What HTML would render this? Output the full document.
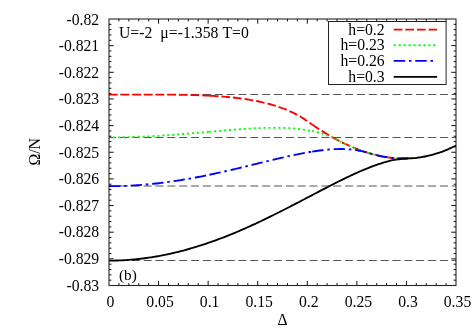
<!DOCTYPE html>
<html><head><meta charset="utf-8"><title>plot</title>
<style>html,body{margin:0;padding:0;background:#fff;}svg{display:block;will-change:transform;}.t text{font-family:"Liberation Serif",serif;}</style></head>
<body>
<svg width="473" height="331" viewBox="0 0 473 331">
<rect width="473" height="331" fill="#fff"/>
<path d="M109.00,94.50 H456.00" stroke="#555" stroke-width="1" stroke-dasharray="8 3.85" stroke-dashoffset="0.9" fill="none"/>
<path d="M109.00,137.50 H456.00" stroke="#555" stroke-width="1" stroke-dasharray="8 3.85" stroke-dashoffset="0.9" fill="none"/>
<path d="M109.00,186.00 H456.00" stroke="#555" stroke-width="1" stroke-dasharray="8 3.85" stroke-dashoffset="0.9" fill="none"/>
<path d="M109.00,260.50 H456.00" stroke="#555" stroke-width="1" stroke-dasharray="8 3.85" stroke-dashoffset="0.9" fill="none"/>
<path d="M109.00,94.65C109.41,94.65 110.65,94.65 111.48,94.64C112.30,94.64 113.13,94.64 113.96,94.64C114.78,94.64 115.61,94.63 116.44,94.63C117.26,94.63 118.09,94.63 118.91,94.63C119.74,94.62 120.57,94.62 121.39,94.62C122.22,94.62 123.05,94.62 123.87,94.61C124.70,94.61 125.52,94.61 126.35,94.61C127.18,94.61 128.00,94.60 128.83,94.60C129.65,94.60 130.48,94.60 131.31,94.60C132.13,94.60 132.96,94.59 133.79,94.59C134.61,94.59 135.44,94.59 136.26,94.59C137.09,94.59 137.92,94.59 138.74,94.58C139.57,94.58 140.40,94.58 141.22,94.58C142.05,94.58 142.87,94.58 143.70,94.58C144.53,94.58 145.35,94.58 146.18,94.58C147.00,94.58 147.83,94.58 148.66,94.58C149.48,94.58 150.31,94.58 151.14,94.58C151.96,94.58 152.79,94.58 153.61,94.58C154.44,94.59 155.27,94.59 156.09,94.59C156.92,94.59 157.75,94.59 158.57,94.60C159.40,94.60 160.22,94.60 161.05,94.61C161.88,94.61 162.70,94.61 163.53,94.62C164.35,94.62 165.18,94.63 166.01,94.63C166.83,94.64 167.66,94.64 168.49,94.65C169.31,94.66 170.14,94.66 170.96,94.67C171.79,94.68 172.62,94.69 173.44,94.70C174.27,94.71 175.10,94.71 175.92,94.72C176.75,94.74 177.57,94.75 178.40,94.76C179.23,94.77 180.05,94.78 180.88,94.80C181.70,94.81 182.53,94.82 183.36,94.84C184.18,94.85 185.01,94.87 185.84,94.89C186.66,94.90 187.49,94.92 188.31,94.94C189.14,94.96 189.97,94.98 190.79,95.00C191.62,95.02 192.45,95.04 193.27,95.07C194.10,95.09 194.92,95.12 195.75,95.14C196.58,95.17 197.40,95.20 198.23,95.22C199.05,95.25 199.88,95.28 200.71,95.32C201.53,95.35 202.36,95.38 203.19,95.41C204.01,95.45 204.84,95.49 205.66,95.52C206.49,95.56 207.45,95.61 208.14,95.64C208.83,95.68 209.52,95.71 209.80,95.73" stroke="#f00" stroke-width="1.85" stroke-dasharray="8.7 2.95" fill="none"/>
<path d="M209.80,95.73C209.94,95.73 210.07,95.74 210.62,95.77C211.17,95.80 212.27,95.86 213.10,95.91C213.93,95.96 214.75,96.01 215.58,96.06C216.40,96.12 217.23,96.17 218.06,96.23C218.88,96.28 219.71,96.34 220.54,96.40C221.36,96.47 222.19,96.53 223.01,96.60C223.84,96.66 224.67,96.73 225.49,96.80C226.32,96.87 227.15,96.95 227.97,97.02C228.80,97.10 229.62,97.18 230.45,97.26C231.28,97.35 232.10,97.43 232.93,97.52C233.75,97.61 234.58,97.70 235.41,97.79C236.23,97.89 237.06,97.99 237.89,98.09C238.71,98.19 239.54,98.29 240.36,98.40C241.19,98.51 242.02,98.62 242.84,98.74C243.67,98.85 244.50,98.97 245.32,99.10C246.15,99.22 246.97,99.35 247.80,99.48C248.63,99.61 249.45,99.75 250.28,99.89C251.10,100.03 251.93,100.17 252.76,100.32C253.58,100.47 254.41,100.63 255.24,100.78C256.06,100.94 256.89,101.11 257.71,101.28C258.54,101.45 259.37,101.62 260.19,101.80C261.02,101.98 261.85,102.17 262.67,102.36C263.50,102.55 264.32,102.74 265.15,102.95C265.98,103.15 266.80,103.36 267.63,103.58C268.45,103.79 269.28,104.01 270.11,104.24C270.93,104.47 271.76,104.71 272.59,104.95C273.41,105.19 274.24,105.44 275.06,105.70C275.89,105.96 276.72,106.23 277.54,106.50C278.37,106.77 279.20,107.06 280.02,107.35C280.85,107.64 281.67,107.94 282.50,108.25C283.33,108.56 284.15,108.87 284.98,109.20C285.80,109.53 286.63,109.87 287.46,110.22C288.28,110.57 289.11,110.92 289.94,111.30C290.76,111.67 291.59,112.05 292.41,112.44C293.24,112.84 294.07,113.24 294.89,113.66C295.72,114.08 296.55,114.51 297.37,114.96C298.20,115.41 299.02,115.86 299.85,116.35C300.68,116.84 301.50,117.40 302.33,117.91C303.15,118.43 303.98,118.91 304.81,119.44C305.63,119.98 306.46,120.55 307.29,121.12C308.11,121.70 308.98,122.33 309.76,122.88C310.55,123.43 311.63,124.17 312.00,124.43" stroke="#f00" stroke-width="1.85" stroke-dasharray="8.7 2.95" fill="none"/>
<path d="M312.00,124.43C312.45,124.73 313.85,125.69 314.72,126.28C315.59,126.86 316.37,127.38 317.20,127.93C318.03,128.47 318.85,129.01 319.68,129.54C320.50,130.07 321.33,130.59 322.16,131.11C322.98,131.63 323.81,132.15 324.64,132.65C325.46,133.16 326.29,133.66 327.11,134.15C327.94,134.65 328.77,135.13 329.59,135.61C330.42,136.09 331.25,136.57 332.07,137.04C332.90,137.50 333.72,137.96 334.55,138.42C335.38,138.87 336.20,139.32 337.03,139.76C337.85,140.20 338.68,140.63 339.51,141.06C340.33,141.49 341.16,141.91 341.99,142.32C342.81,142.73 343.64,143.14 344.46,143.53C345.29,143.93 346.12,144.32 346.94,144.71C347.77,145.09 348.60,145.47 349.42,145.84C350.25,146.21 351.07,146.57 351.90,146.92C352.73,147.28 353.55,147.62 354.38,147.96C355.20,148.30 356.03,148.63 356.86,148.96C357.68,149.28 358.51,149.60 359.34,149.91C360.16,150.22 360.99,150.52 361.81,150.81C362.64,151.10 363.47,151.39 364.29,151.67C365.12,151.94 365.95,152.21 366.77,152.48C367.60,152.74 368.42,152.99 369.25,153.24C370.08,153.48 370.90,153.72 371.73,153.95C372.55,154.18 373.38,154.40 374.21,154.61C375.03,154.82 375.86,155.03 376.69,155.22C377.51,155.42 378.34,155.60 379.16,155.78C379.99,155.96 380.82,156.13 381.64,156.29C382.47,156.46 383.30,156.61 384.12,156.75C384.95,156.90 385.77,157.04 386.60,157.16C387.43,157.29 388.25,157.41 389.08,157.52C389.90,157.63 390.73,157.73 391.56,157.82C392.38,157.91 393.21,158.00 394.04,158.07C394.86,158.14 395.69,158.21 396.51,158.27C397.34,158.32 398.17,158.37 398.99,158.41C399.82,158.44 400.65,158.47 401.47,158.49C402.30,158.51 403.12,158.52 403.95,158.52C404.78,158.52 405.69,158.51 406.43,158.50C407.17,158.48 408.08,158.44 408.41,158.43" stroke="#f00" stroke-width="1.85" stroke-dasharray="8.7 2.95" fill="none"/>
<path d="M109.00,137.41C109.41,137.41 110.65,137.41 111.48,137.40C112.30,137.40 113.13,137.39 113.96,137.38C114.78,137.38 115.61,137.37 116.44,137.36C117.26,137.35 118.09,137.34 118.91,137.33C119.74,137.31 120.57,137.30 121.39,137.28C122.22,137.27 123.05,137.25 123.87,137.24C124.70,137.22 125.52,137.20 126.35,137.18C127.18,137.16 128.00,137.14 128.83,137.12C129.65,137.09 130.48,137.07 131.31,137.05C132.13,137.02 132.96,136.99 133.79,136.97C134.61,136.94 135.44,136.91 136.26,136.88C137.09,136.85 137.92,136.82 138.74,136.79C139.57,136.76 140.40,136.72 141.22,136.69C142.05,136.65 142.87,136.62 143.70,136.58C144.53,136.54 145.35,136.51 146.18,136.47C147.00,136.43 147.83,136.39 148.66,136.35C149.48,136.30 150.31,136.26 151.14,136.22C151.96,136.17 152.79,136.13 153.61,136.08C154.44,136.04 155.27,135.99 156.09,135.94C156.92,135.89 157.75,135.85 158.57,135.80C159.40,135.75 160.22,135.69 161.05,135.64C161.88,135.59 162.70,135.54 163.53,135.48C164.35,135.43 165.18,135.38 166.01,135.32C166.83,135.26 167.66,135.21 168.49,135.15C169.31,135.09 170.14,135.03 170.96,134.98C171.79,134.92 172.62,134.86 173.44,134.79C174.27,134.73 175.10,134.67 175.92,134.61C176.75,134.55 177.57,134.48 178.40,134.42C179.23,134.36 180.05,134.29 180.88,134.23C181.70,134.16 182.53,134.10 183.36,134.03C184.18,133.96 185.01,133.90 185.84,133.83C186.66,133.76 187.49,133.69 188.31,133.62C189.14,133.55 189.97,133.48 190.79,133.41C191.62,133.35 192.45,133.27 193.27,133.20C194.10,133.13 194.92,133.06 195.75,132.99C196.58,132.92 197.40,132.85 198.23,132.78C199.05,132.70 199.88,132.63 200.71,132.56C201.53,132.49 202.36,132.41 203.19,132.34C204.01,132.27 204.84,132.19 205.66,132.12C206.49,132.05 207.55,131.95 208.14,131.90C208.73,131.85 209.02,131.82 209.20,131.81" stroke="#0f0" stroke-width="1.85" stroke-dasharray="2.05 2.9" stroke-dashoffset="1.1" fill="none"/>
<path d="M209.20,131.81C209.44,131.79 209.97,131.74 210.62,131.68C211.27,131.62 212.27,131.53 213.10,131.46C213.93,131.39 214.75,131.32 215.58,131.24C216.40,131.17 217.23,131.10 218.06,131.02C218.88,130.95 219.71,130.88 220.54,130.81C221.36,130.74 222.19,130.67 223.01,130.60C223.84,130.52 224.67,130.45 225.49,130.38C226.32,130.31 227.15,130.24 227.97,130.18C228.80,130.11 229.62,130.04 230.45,129.97C231.28,129.91 232.10,129.84 232.93,129.77C233.75,129.71 234.58,129.64 235.41,129.58C236.23,129.52 237.06,129.45 237.89,129.39C238.71,129.33 239.54,129.27 240.36,129.21C241.19,129.15 242.02,129.09 242.84,129.03C243.67,128.98 244.50,128.92 245.32,128.87C246.15,128.81 246.97,128.76 247.80,128.71C248.63,128.66 249.45,128.61 250.28,128.56C251.10,128.51 251.93,128.47 252.76,128.42C253.58,128.38 254.41,128.33 255.24,128.29C256.06,128.25 256.89,128.21 257.71,128.18C258.54,128.14 259.37,128.11 260.19,128.07C261.02,128.04 261.85,128.01 262.67,127.99C263.50,127.96 264.32,127.93 265.15,127.91C265.98,127.89 266.80,127.87 267.63,127.85C268.45,127.84 269.28,127.82 270.11,127.81C270.93,127.80 271.76,127.79 272.59,127.79C273.41,127.78 274.24,127.78 275.06,127.78C275.89,127.79 276.72,127.79 277.54,127.80C278.37,127.81 279.20,127.82 280.02,127.84C280.85,127.86 281.67,127.88 282.50,127.90C283.33,127.93 284.15,127.96 284.98,127.99C285.80,128.02 286.63,128.06 287.46,128.10C288.28,128.15 289.11,128.19 289.94,128.25C290.76,128.30 291.59,128.36 292.41,128.42C293.24,128.48 294.07,128.55 294.89,128.62C295.72,128.70 296.55,128.77 297.37,128.86C298.20,128.95 299.02,129.04 299.85,129.13C300.68,129.23 301.50,129.33 302.33,129.45C303.15,129.56 303.98,129.67 304.81,129.80C305.63,129.92 306.46,130.06 307.29,130.20C308.11,130.34 308.98,130.49 309.76,130.64C310.55,130.79 311.63,131.01 312.00,131.08" stroke="#0f0" stroke-width="1.85" stroke-dasharray="2.05 2.9" fill="none"/>
<path d="M312.00,131.08C312.45,131.18 313.85,131.48 314.72,131.68C315.59,131.87 316.37,132.07 317.20,132.28C318.03,132.49 318.85,132.71 319.68,132.94C320.50,133.17 321.33,133.41 322.16,133.67C322.98,133.92 323.81,134.19 324.64,134.47C325.46,134.75 326.29,135.04 327.11,135.34C327.94,135.65 328.77,135.95 329.59,136.30C330.42,136.65 331.25,137.09 332.07,137.46C332.90,137.83 333.72,138.13 334.55,138.52C335.38,138.90 336.20,139.34 337.03,139.76C337.85,140.18 338.68,140.63 339.51,141.06C340.33,141.49 341.16,141.91 341.99,142.32C342.81,142.73 343.64,143.14 344.46,143.53C345.29,143.93 346.12,144.32 346.94,144.71C347.77,145.09 348.60,145.47 349.42,145.84C350.25,146.21 351.07,146.57 351.90,146.92C352.73,147.28 353.55,147.62 354.38,147.96C355.20,148.30 356.03,148.63 356.86,148.96C357.68,149.28 358.51,149.60 359.34,149.91C360.16,150.22 360.99,150.52 361.81,150.81C362.64,151.10 363.47,151.39 364.29,151.67C365.12,151.94 365.95,152.21 366.77,152.48C367.60,152.74 368.42,152.99 369.25,153.24C370.08,153.48 370.90,153.72 371.73,153.95C372.55,154.18 373.38,154.40 374.21,154.61C375.03,154.82 375.86,155.03 376.69,155.22C377.51,155.42 378.34,155.60 379.16,155.78C379.99,155.96 380.82,156.13 381.64,156.29C382.47,156.46 383.30,156.61 384.12,156.75C384.95,156.90 385.77,157.04 386.60,157.16C387.43,157.29 388.25,157.41 389.08,157.52C389.90,157.63 390.73,157.73 391.56,157.82C392.38,157.91 393.21,158.00 394.04,158.07C394.86,158.14 395.69,158.21 396.51,158.27C397.34,158.32 398.17,158.37 398.99,158.41C399.82,158.44 400.65,158.47 401.47,158.49C402.30,158.51 403.12,158.52 403.95,158.52C404.78,158.52 405.69,158.51 406.43,158.50C407.17,158.48 408.08,158.44 408.41,158.43" stroke="#0f0" stroke-width="1.85" stroke-dasharray="2.05 2.9" fill="none"/>
<path d="M109.00,186.20C109.41,186.19 110.65,186.19 111.48,186.18C112.30,186.18 113.13,186.17 113.96,186.15C114.78,186.14 115.61,186.13 116.44,186.11C117.26,186.10 118.09,186.08 118.91,186.06C119.74,186.03 120.57,186.01 121.39,185.98C122.22,185.96 123.05,185.93 123.87,185.90C124.70,185.87 125.52,185.83 126.35,185.80C127.18,185.76 128.00,185.72 128.83,185.68C129.65,185.64 130.48,185.60 131.31,185.55C132.13,185.51 132.96,185.46 133.79,185.41C134.61,185.36 135.44,185.31 136.26,185.25C137.09,185.20 137.92,185.14 138.74,185.08C139.57,185.02 140.40,184.96 141.22,184.90C142.05,184.83 142.87,184.77 143.70,184.70C144.53,184.63 145.35,184.56 146.18,184.48C147.00,184.41 147.83,184.33 148.66,184.26C149.48,184.18 150.31,184.10 151.14,184.02C151.96,183.93 152.79,183.85 153.61,183.76C154.44,183.67 155.27,183.58 156.09,183.49C156.92,183.40 157.75,183.31 158.57,183.21C159.40,183.11 160.22,183.02 161.05,182.92C161.88,182.82 162.70,182.71 163.53,182.61C164.35,182.50 165.18,182.40 166.01,182.29C166.83,182.18 167.66,182.07 168.49,181.95C169.31,181.84 170.14,181.73 170.96,181.61C171.79,181.49 172.62,181.37 173.44,181.25C174.27,181.13 175.10,181.00 175.92,180.88C176.75,180.75 177.57,180.63 178.40,180.50C179.23,180.37 180.05,180.24 180.88,180.10C181.70,179.97 182.53,179.83 183.36,179.70C184.18,179.56 185.01,179.42 185.84,179.28C186.66,179.14 187.49,178.99 188.31,178.85C189.14,178.70 189.97,178.56 190.79,178.41C191.62,178.26 192.45,178.11 193.27,177.96C194.10,177.81 194.92,177.65 195.75,177.50C196.58,177.34 197.40,177.18 198.23,177.03C199.05,176.87 199.88,176.71 200.71,176.54C201.53,176.38 202.36,176.22 203.19,176.05C204.01,175.89 204.84,175.72 205.66,175.55C206.49,175.38 207.50,175.18 208.14,175.04C208.78,174.91 209.27,174.81 209.50,174.76" stroke="#00f" stroke-width="1.85" stroke-dasharray="11.4 3.8 2.5 3.9" fill="none"/>
<path d="M209.50,174.76C209.69,174.72 210.02,174.65 210.62,174.53C211.22,174.40 212.27,174.18 213.10,174.00C213.93,173.82 214.75,173.64 215.58,173.46C216.40,173.28 217.23,173.10 218.06,172.92C218.88,172.74 219.71,172.56 220.54,172.37C221.36,172.19 222.19,172.00 223.01,171.81C223.84,171.63 224.67,171.44 225.49,171.25C226.32,171.06 227.15,170.87 227.97,170.68C228.80,170.49 229.62,170.30 230.45,170.11C231.28,169.91 232.10,169.72 232.93,169.52C233.75,169.33 234.58,169.13 235.41,168.94C236.23,168.74 237.06,168.55 237.89,168.35C238.71,168.15 239.54,167.95 240.36,167.75C241.19,167.55 242.02,167.36 242.84,167.16C243.67,166.96 244.50,166.75 245.32,166.55C246.15,166.35 246.97,166.15 247.80,165.95C248.63,165.75 249.45,165.55 250.28,165.34C251.10,165.14 251.93,164.94 252.76,164.74C253.58,164.53 254.41,164.33 255.24,164.13C256.06,163.93 256.89,163.72 257.71,163.52C258.54,163.32 259.37,163.12 260.19,162.91C261.02,162.71 261.85,162.51 262.67,162.31C263.50,162.10 264.32,161.90 265.15,161.70C265.98,161.50 266.80,161.30 267.63,161.10C268.45,160.90 269.28,160.70 270.11,160.50C270.93,160.30 271.76,160.10 272.59,159.90C273.41,159.70 274.24,159.51 275.06,159.31C275.89,159.11 276.72,158.92 277.54,158.72C278.37,158.53 279.20,158.33 280.02,158.14C280.85,157.95 281.67,157.76 282.50,157.57C283.33,157.38 284.15,157.19 284.98,157.00C285.80,156.82 286.63,156.63 287.46,156.45C288.28,156.26 289.11,156.08 289.94,155.90C290.76,155.72 291.59,155.54 292.41,155.37C293.24,155.19 294.07,155.01 294.89,154.84C295.72,154.67 296.55,154.50 297.37,154.33C298.20,154.16 299.02,154.00 299.85,153.83C300.68,153.67 301.50,153.51 302.33,153.35C303.15,153.20 303.98,153.04 304.81,152.89C305.63,152.74 306.46,152.59 307.29,152.44C308.11,152.30 308.95,152.15 309.76,152.01C310.58,151.88 311.79,151.68 312.20,151.61" stroke="#00f" stroke-width="1.85" stroke-dasharray="11.4 3.8 2.5 3.9" fill="none"/>
<path d="M312.20,151.61C312.62,151.55 313.89,151.35 314.72,151.22C315.55,151.10 316.37,150.98 317.20,150.86C318.03,150.75 318.85,150.63 319.68,150.53C320.50,150.42 321.33,150.32 322.16,150.22C322.98,150.12 323.81,150.03 324.64,149.94C325.46,149.85 326.29,149.77 327.11,149.69C327.94,149.62 328.77,149.55 329.59,149.48C330.42,149.42 331.25,149.36 332.07,149.30C332.90,149.25 333.72,149.20 334.55,149.17C335.38,149.13 336.20,149.09 337.03,149.07C337.85,149.04 338.68,149.02 339.51,149.01C340.33,149.00 341.16,149.00 341.99,149.01C342.81,149.01 343.64,149.03 344.46,149.05C345.29,149.07 346.12,149.10 346.94,149.15C347.77,149.19 348.60,149.24 349.42,149.30C350.25,149.36 351.07,149.43 351.90,149.52C352.73,149.60 353.55,149.70 354.38,149.80C355.20,149.91 356.03,150.01 356.86,150.16C357.68,150.32 358.51,150.55 359.34,150.73C360.16,150.90 360.99,151.04 361.81,151.22C362.64,151.41 363.47,151.61 364.29,151.82C365.12,152.02 365.95,152.24 366.77,152.48C367.60,152.71 368.42,152.99 369.25,153.24C370.08,153.48 370.90,153.72 371.73,153.95C372.55,154.18 373.38,154.40 374.21,154.61C375.03,154.82 375.86,155.03 376.69,155.22C377.51,155.42 378.34,155.60 379.16,155.78C379.99,155.96 380.82,156.13 381.64,156.29C382.47,156.46 383.30,156.61 384.12,156.75C384.95,156.90 385.77,157.04 386.60,157.16C387.43,157.29 388.25,157.41 389.08,157.52C389.90,157.63 390.73,157.73 391.56,157.82C392.38,157.91 393.21,158.00 394.04,158.07C394.86,158.14 395.69,158.21 396.51,158.27C397.34,158.32 398.17,158.37 398.99,158.41C399.82,158.44 400.65,158.47 401.47,158.49C402.30,158.51 403.12,158.52 403.95,158.52C404.78,158.52 405.69,158.51 406.43,158.50C407.17,158.48 408.08,158.44 408.41,158.43" stroke="#00f" stroke-width="1.85" stroke-dasharray="11.4 3.8 2.5 3.9" fill="none"/>
<path d="M109.00,260.65C109.41,260.65 110.65,260.64 111.48,260.63C112.30,260.62 113.13,260.61 113.96,260.59C114.78,260.58 115.61,260.56 116.44,260.53C117.26,260.51 118.09,260.48 118.91,260.45C119.74,260.42 120.57,260.38 121.39,260.34C122.22,260.30 123.05,260.26 123.87,260.21C124.70,260.16 125.52,260.11 126.35,260.06C127.18,260.00 128.00,259.95 128.83,259.89C129.65,259.82 130.48,259.76 131.31,259.69C132.13,259.62 132.96,259.55 133.79,259.47C134.61,259.39 135.44,259.31 136.26,259.23C137.09,259.14 137.92,259.06 138.74,258.97C139.57,258.87 140.40,258.78 141.22,258.68C142.05,258.58 142.87,258.48 143.70,258.37C144.53,258.27 145.35,258.16 146.18,258.04C147.00,257.93 147.83,257.81 148.66,257.69C149.48,257.57 150.31,257.45 151.14,257.32C151.96,257.19 152.79,257.06 153.61,256.92C154.44,256.79 155.27,256.65 156.09,256.51C156.92,256.36 157.75,256.22 158.57,256.07C159.40,255.92 160.22,255.76 161.05,255.61C161.88,255.45 162.70,255.29 163.53,255.12C164.35,254.96 165.18,254.79 166.01,254.62C166.83,254.45 167.66,254.28 168.49,254.10C169.31,253.92 170.14,253.74 170.96,253.55C171.79,253.37 172.62,253.18 173.44,252.99C174.27,252.80 175.10,252.60 175.92,252.40C176.75,252.20 177.57,252.00 178.40,251.80C179.23,251.59 180.05,251.38 180.88,251.17C181.70,250.95 182.53,250.74 183.36,250.52C184.18,250.30 185.01,250.08 185.84,249.85C186.66,249.62 187.49,249.39 188.31,249.16C189.14,248.93 189.97,248.69 190.79,248.45C191.62,248.21 192.45,247.97 193.27,247.73C194.10,247.48 194.92,247.23 195.75,246.98C196.58,246.73 197.40,246.47 198.23,246.21C199.05,245.95 199.88,245.69 200.71,245.43C201.53,245.16 202.36,244.89 203.19,244.62C204.01,244.35 204.84,244.08 205.66,243.80C206.49,243.52 207.32,243.24 208.14,242.96C208.97,242.67 209.80,242.39 210.62,242.10C211.45,241.81 212.27,241.51 213.10,241.22C213.93,240.92 214.75,240.62 215.58,240.32C216.40,240.02 217.23,239.72 218.06,239.41C218.88,239.10 219.71,238.79 220.54,238.48C221.36,238.16 222.19,237.85 223.01,237.53C223.84,237.21 224.67,236.89 225.49,236.57C226.32,236.24 227.15,235.91 227.97,235.58C228.80,235.25 229.62,234.92 230.45,234.59C231.28,234.25 232.10,233.91 232.93,233.57C233.75,233.23 234.58,232.89 235.41,232.54C236.23,232.20 237.06,231.85 237.89,231.50C238.71,231.15 239.54,230.80 240.36,230.44C241.19,230.09 242.02,229.73 242.84,229.37C243.67,229.01 244.50,228.64 245.32,228.28C246.15,227.91 246.97,227.55 247.80,227.18C248.63,226.81 249.45,226.44 250.28,226.06C251.10,225.69 251.93,225.31 252.76,224.93C253.58,224.55 254.41,224.17 255.24,223.79C256.06,223.41 256.89,223.02 257.71,222.64C258.54,222.25 259.37,221.86 260.19,221.47C261.02,221.08 261.85,220.69 262.67,220.29C263.50,219.90 264.32,219.50 265.15,219.10C265.98,218.70 266.80,218.30 267.63,217.90C268.45,217.50 269.28,217.10 270.11,216.69C270.93,216.29 271.76,215.88 272.59,215.47C273.41,215.07 274.24,214.66 275.06,214.24C275.89,213.83 276.72,213.42 277.54,213.01C278.37,212.59 279.20,212.18 280.02,211.76C280.85,211.34 281.67,210.93 282.50,210.51C283.33,210.09 284.15,209.67 284.98,209.24C285.80,208.82 286.63,208.40 287.46,207.98C288.28,207.55 289.11,207.13 289.94,206.70C290.76,206.28 291.59,205.85 292.41,205.42C293.24,205.00 294.07,204.57 294.89,204.14C295.72,203.71 296.55,203.28 297.37,202.85C298.20,202.42 299.02,201.99 299.85,201.56C300.68,201.13 301.50,200.70 302.33,200.26C303.15,199.83 303.98,199.40 304.81,198.97C305.63,198.53 306.46,198.10 307.29,197.67C308.11,197.23 308.94,196.80 309.76,196.37C310.59,195.93 311.42,195.50 312.24,195.07C313.07,194.64 313.90,194.20 314.72,193.77C315.55,193.34 316.37,192.91 317.20,192.47C318.03,192.04 318.85,191.61 319.68,191.18C320.50,190.75 321.33,190.32 322.16,189.89C322.98,189.46 323.81,189.03 324.64,188.60C325.46,188.18 326.29,187.75 327.11,187.32C327.94,186.90 328.77,186.47 329.59,186.05C330.42,185.62 331.25,185.20 332.07,184.78C332.90,184.36 333.72,183.94 334.55,183.52C335.38,183.11 336.20,182.69 337.03,182.28C337.85,181.86 338.68,181.45 339.51,181.04C340.33,180.63 341.16,180.22 341.99,179.81C342.81,179.41 343.64,179.00 344.46,178.60C345.29,178.20 346.12,177.80 346.94,177.40C347.77,177.01 348.60,176.61 349.42,176.22C350.25,175.83 351.07,175.44 351.90,175.06C352.73,174.67 353.55,174.29 354.38,173.91C355.20,173.54 356.03,173.16 356.86,172.79C357.68,172.42 358.51,172.05 359.34,171.69C360.16,171.33 360.99,170.97 361.81,170.62C362.64,170.26 363.47,169.91 364.29,169.57C365.12,169.22 365.95,168.88 366.77,168.54C367.60,168.21 368.42,167.88 369.25,167.55C370.08,167.23 370.90,166.91 371.73,166.60C372.55,166.28 373.38,165.98 374.21,165.67C375.03,165.37 375.86,165.08 376.69,164.79C377.51,164.50 378.34,164.22 379.16,163.95C379.99,163.67 380.82,163.41 381.64,163.15C382.47,162.89 383.30,162.64 384.12,162.40C384.95,162.15 385.77,161.92 386.60,161.69C387.43,161.47 388.25,161.25 389.08,161.05C389.90,160.84 390.73,160.65 391.56,160.46C392.38,160.28 393.21,160.10 394.04,159.94C394.86,159.78 395.69,159.59 396.51,159.48C397.34,159.38 398.17,159.39 398.99,159.29C399.82,159.19 400.65,159.02 401.47,158.90C402.30,158.79 403.12,158.69 403.95,158.62C404.78,158.55 405.60,158.53 406.43,158.50C407.25,158.46 408.08,158.45 408.91,158.42C409.73,158.38 410.56,158.33 411.39,158.28C412.21,158.22 413.04,158.16 413.86,158.08C414.69,158.01 415.52,157.92 416.34,157.83C417.17,157.73 418.00,157.63 418.82,157.52C419.65,157.40 420.47,157.28 421.30,157.15C422.13,157.01 422.95,156.87 423.78,156.72C424.60,156.56 425.43,156.40 426.26,156.23C427.08,156.06 427.91,155.87 428.74,155.68C429.56,155.49 430.39,155.28 431.21,155.07C432.04,154.86 432.87,154.63 433.69,154.40C434.52,154.16 435.35,153.92 436.17,153.67C437.00,153.41 437.82,153.15 438.65,152.87C439.48,152.60 440.30,152.31 441.13,152.02C441.95,151.72 442.78,151.41 443.61,151.10C444.43,150.78 445.26,150.45 446.09,150.12C446.91,149.78 447.74,149.43 448.56,149.07C449.39,148.71 450.22,148.34 451.04,147.96C451.87,147.58 452.70,147.19 453.52,146.79C454.35,146.39 455.59,145.76 456.00,145.55" stroke="#000" stroke-width="1.85" fill="none"/>
<rect x="109.00" y="19.00" width="347.00" height="266.50" fill="none" stroke="#000" stroke-width="1.1" stroke-opacity="0.85"/>
<path d="M118.91,285.50 v-2.40 M118.91,19.00 v2.40 M128.83,285.50 v-2.40 M128.83,19.00 v2.40 M138.74,285.50 v-2.40 M138.74,19.00 v2.40 M148.66,285.50 v-2.40 M148.66,19.00 v2.40 M158.57,285.50 v-4.70 M158.57,19.00 v4.70 M168.49,285.50 v-2.40 M168.49,19.00 v2.40 M178.40,285.50 v-2.40 M178.40,19.00 v2.40 M188.31,285.50 v-2.40 M188.31,19.00 v2.40 M198.23,285.50 v-2.40 M198.23,19.00 v2.40 M208.14,285.50 v-4.70 M208.14,19.00 v4.70 M218.06,285.50 v-2.40 M218.06,19.00 v2.40 M227.97,285.50 v-2.40 M227.97,19.00 v2.40 M237.89,285.50 v-2.40 M237.89,19.00 v2.40 M247.80,285.50 v-2.40 M247.80,19.00 v2.40 M257.71,285.50 v-4.70 M257.71,19.00 v4.70 M267.63,285.50 v-2.40 M267.63,19.00 v2.40 M277.54,285.50 v-2.40 M277.54,19.00 v2.40 M287.46,285.50 v-2.40 M287.46,19.00 v2.40 M297.37,285.50 v-2.40 M297.37,19.00 v2.40 M307.29,285.50 v-4.70 M307.29,19.00 v4.70 M317.20,285.50 v-2.40 M317.20,19.00 v2.40 M327.11,285.50 v-2.40 M327.11,19.00 v2.40 M337.03,285.50 v-2.40 M337.03,19.00 v2.40 M346.94,285.50 v-2.40 M346.94,19.00 v2.40 M356.86,285.50 v-4.70 M356.86,19.00 v4.70 M366.77,285.50 v-2.40 M366.77,19.00 v2.40 M376.69,285.50 v-2.40 M376.69,19.00 v2.40 M386.60,285.50 v-2.40 M386.60,19.00 v2.40 M396.51,285.50 v-2.40 M396.51,19.00 v2.40 M406.43,285.50 v-4.70 M406.43,19.00 v4.70 M416.34,285.50 v-2.40 M416.34,19.00 v2.40 M426.26,285.50 v-2.40 M426.26,19.00 v2.40 M436.17,285.50 v-2.40 M436.17,19.00 v2.40 M446.09,285.50 v-2.40 M446.09,19.00 v2.40 M109.00,24.33 h2.40 M456.00,24.33 h-2.40 M109.00,29.66 h2.40 M456.00,29.66 h-2.40 M109.00,34.99 h2.40 M456.00,34.99 h-2.40 M109.00,40.32 h2.40 M456.00,40.32 h-2.40 M109.00,45.65 h4.70 M456.00,45.65 h-4.70 M109.00,50.98 h2.40 M456.00,50.98 h-2.40 M109.00,56.31 h2.40 M456.00,56.31 h-2.40 M109.00,61.64 h2.40 M456.00,61.64 h-2.40 M109.00,66.97 h2.40 M456.00,66.97 h-2.40 M109.00,72.30 h4.70 M456.00,72.30 h-4.70 M109.00,77.63 h2.40 M456.00,77.63 h-2.40 M109.00,82.96 h2.40 M456.00,82.96 h-2.40 M109.00,88.29 h2.40 M456.00,88.29 h-2.40 M109.00,93.62 h2.40 M456.00,93.62 h-2.40 M109.00,98.95 h4.70 M456.00,98.95 h-4.70 M109.00,104.28 h2.40 M456.00,104.28 h-2.40 M109.00,109.61 h2.40 M456.00,109.61 h-2.40 M109.00,114.94 h2.40 M456.00,114.94 h-2.40 M109.00,120.27 h2.40 M456.00,120.27 h-2.40 M109.00,125.60 h4.70 M456.00,125.60 h-4.70 M109.00,130.93 h2.40 M456.00,130.93 h-2.40 M109.00,136.26 h2.40 M456.00,136.26 h-2.40 M109.00,141.59 h2.40 M456.00,141.59 h-2.40 M109.00,146.92 h2.40 M456.00,146.92 h-2.40 M109.00,152.25 h4.70 M456.00,152.25 h-4.70 M109.00,157.58 h2.40 M456.00,157.58 h-2.40 M109.00,162.91 h2.40 M456.00,162.91 h-2.40 M109.00,168.24 h2.40 M456.00,168.24 h-2.40 M109.00,173.57 h2.40 M456.00,173.57 h-2.40 M109.00,178.90 h4.70 M456.00,178.90 h-4.70 M109.00,184.23 h2.40 M456.00,184.23 h-2.40 M109.00,189.56 h2.40 M456.00,189.56 h-2.40 M109.00,194.89 h2.40 M456.00,194.89 h-2.40 M109.00,200.22 h2.40 M456.00,200.22 h-2.40 M109.00,205.55 h4.70 M456.00,205.55 h-4.70 M109.00,210.88 h2.40 M456.00,210.88 h-2.40 M109.00,216.21 h2.40 M456.00,216.21 h-2.40 M109.00,221.54 h2.40 M456.00,221.54 h-2.40 M109.00,226.87 h2.40 M456.00,226.87 h-2.40 M109.00,232.20 h4.70 M456.00,232.20 h-4.70 M109.00,237.53 h2.40 M456.00,237.53 h-2.40 M109.00,242.86 h2.40 M456.00,242.86 h-2.40 M109.00,248.19 h2.40 M456.00,248.19 h-2.40 M109.00,253.52 h2.40 M456.00,253.52 h-2.40 M109.00,258.85 h4.70 M456.00,258.85 h-4.70 M109.00,264.18 h2.40 M456.00,264.18 h-2.40 M109.00,269.51 h2.40 M456.00,269.51 h-2.40 M109.00,274.84 h2.40 M456.00,274.84 h-2.40 M109.00,280.17 h2.40 M456.00,280.17 h-2.40" stroke="#111" stroke-width="1" fill="none"/>
<rect x="328.50" y="21.50" width="117.60" height="63.00" fill="#fff" stroke="#222" stroke-width="1"/>
<g class="t" font-size="15.70" fill="#000">
<text x="384.6" y="34.60" text-anchor="end">h=0.2</text>
<path d="M393.7,29.60 H437.1" stroke="#f00" stroke-width="1.85" stroke-dasharray="8.7 2.95" fill="none"/>
<text x="384.6" y="50.40" text-anchor="end">h=0.23</text>
<path d="M393.7,45.20 H437.1" stroke="#0f0" stroke-width="1.85" stroke-dasharray="2.05 2.9" fill="none"/>
<text x="384.6" y="65.70" text-anchor="end">h=0.26</text>
<path d="M393.7,60.80 H436.4" stroke="#00f" stroke-width="1.85" stroke-dasharray="11.4 3.8 2.5 3.9" fill="none"/>
<text x="384.6" y="81.70" text-anchor="end">h=0.3</text>
<path d="M393.7,76.90 H437.1" stroke="#000" stroke-width="1.85"  fill="none"/>
<text x="99.2" y="24.50" text-anchor="end">-0.82</text>
<text x="99.2" y="51.10" text-anchor="end">-0.821</text>
<text x="99.2" y="77.70" text-anchor="end">-0.822</text>
<text x="99.2" y="104.30" text-anchor="end">-0.823</text>
<text x="99.2" y="130.90" text-anchor="end">-0.824</text>
<text x="99.2" y="157.50" text-anchor="end">-0.825</text>
<text x="99.2" y="184.10" text-anchor="end">-0.826</text>
<text x="99.2" y="210.70" text-anchor="end">-0.827</text>
<text x="99.2" y="237.30" text-anchor="end">-0.828</text>
<text x="99.2" y="263.90" text-anchor="end">-0.829</text>
<text x="99.2" y="290.50" text-anchor="end">-0.83</text>
<text x="110.50" y="306.8" text-anchor="middle">0</text>
<text x="160.07" y="306.8" text-anchor="middle">0.05</text>
<text x="209.64" y="306.8" text-anchor="middle">0.1</text>
<text x="259.21" y="306.8" text-anchor="middle">0.15</text>
<text x="308.79" y="306.8" text-anchor="middle">0.2</text>
<text x="358.36" y="306.8" text-anchor="middle">0.25</text>
<text x="407.93" y="306.8" text-anchor="middle">0.3</text>
<text x="457.50" y="306.8" text-anchor="middle">0.35</text>
<text id="ttl" x="118.9" y="37.6" xml:space="preserve" textLength="129.9" lengthAdjust="spacing">U=-2  μ=-1.358 T=0</text>
<text x="119.0" y="280.0" font-size="15.3">(b)</text>
<text x="282.6" y="325.4" text-anchor="middle">Δ</text>
<text transform="translate(39.7,165.6) rotate(-90)" textLength="27.6" lengthAdjust="spacingAndGlyphs">Ω/N</text>
</g>
</svg>
</body></html>
